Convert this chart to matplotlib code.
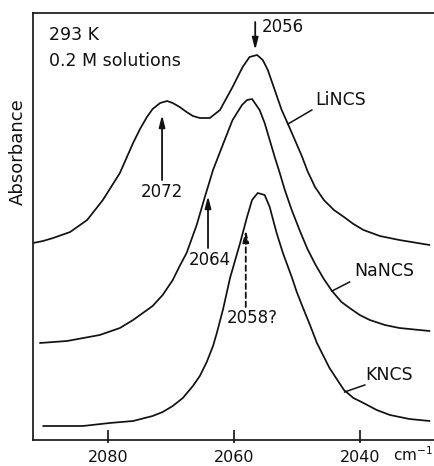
"""
IR absorbance of the CN stretch, 0.2 M LiNCS / NaNCS / KNCS solutions at 293 K
"""
import matplotlib
matplotlib.use('Agg')
import matplotlib.pyplot as plt

plt.rcParams['font.family'] = ['DejaVu Sans']

INK = "#111111"

# ── data (wavenumber cm-1, absorbance arb. units, curves offset) ──
li_wn  = [2091.9, 2090.3, 2088.7, 2086.0, 2083.3, 2080.8, 2078.1, 2076.0, 2074.9,
          2073.8, 2072.9, 2071.7, 2070.6, 2069.7, 2068.6, 2067.5, 2066.5, 2065.4,
          2063.8, 2062.2, 2060.2, 2058.6, 2057.5, 2056.3, 2055.4, 2054.6, 2053.5,
          2052.4, 2051.4, 2050.3, 2049.2, 2048.3, 2047.1, 2045.7, 2044.1, 2042.5,
          2041.0, 2039.4, 2036.8, 2033.7, 2028.9]
li_abs = [1.96, 1.98, 2.01, 2.07, 2.19, 2.39, 2.66, 2.96, 3.10,
          3.22, 3.30, 3.36, 3.38, 3.36, 3.32, 3.27, 3.23, 3.21,
          3.21, 3.29, 3.52, 3.72, 3.82, 3.84, 3.79, 3.69, 3.49,
          3.29, 3.15, 2.99, 2.83, 2.68, 2.52, 2.39, 2.29, 2.22,
          2.15, 2.09, 2.03, 1.99, 1.94]

na_wn  = [2090.8, 2086.5, 2081.3, 2078.1, 2076.0, 2072.9, 2071.3, 2069.7, 2068.6,
          2067.5, 2065.9, 2064.6, 2063.3, 2061.7, 2060.2, 2058.7, 2057.9, 2057.1,
          2055.9, 2055.1, 2054.3, 2053.5, 2052.7, 2051.9, 2050.8, 2049.5, 2048.3,
          2047.0, 2045.7, 2044.4, 2042.9, 2041.6, 2040.0, 2038.4, 2036.0, 2033.7,
          2028.9]
na_abs = [0.96, 0.98, 1.04, 1.11, 1.19, 1.33, 1.44, 1.59, 1.73,
          1.86, 2.14, 2.42, 2.69, 2.95, 3.19, 3.34, 3.39, 3.40,
          3.29, 3.16, 2.99, 2.82, 2.66, 2.49, 2.29, 2.08, 1.90,
          1.74, 1.60, 1.48, 1.37, 1.31, 1.24, 1.19, 1.14, 1.11,
          1.08]

k_wn   = [2090.3, 2084.0, 2079.7, 2076.0, 2072.9, 2071.3, 2069.7, 2068.1, 2066.5,
          2065.4, 2064.3, 2063.3, 2062.7, 2061.7, 2060.6, 2059.0, 2057.9, 2057.1,
          2056.2, 2055.1, 2054.3, 2053.2, 2052.2, 2050.8, 2050.0, 2049.0, 2047.9,
          2046.8, 2044.8, 2042.5, 2041.0, 2039.4, 2037.3, 2035.2, 2032.1, 2028.9]
k_abs  = [0.13, 0.13, 0.16, 0.18, 0.23, 0.27, 0.33, 0.41, 0.53,
          0.63, 0.77, 0.93, 1.06, 1.30, 1.61, 1.96, 2.22, 2.39,
          2.46, 2.44, 2.32, 2.06, 1.86, 1.62, 1.47, 1.31, 1.14,
          0.96, 0.71, 0.49, 0.41, 0.36, 0.29, 0.24, 0.20, 0.18]

x_ticks = [2080, 2060, 2040]

fig = plt.figure(figsize=(4.34, 4.66), dpi=100, facecolor='white')
ax = fig.add_axes([33/434, 26/466, 401/434, 427/466])
ax.set_xlim(2091.9, 2028.2)
ax.set_ylim(-0.01, 4.26)

for wn, ab in [(li_wn, li_abs), (na_wn, na_abs), (k_wn, k_abs)]:
    ax.plot(wn, ab, color=INK, lw=1.25, solid_joinstyle='round',
            solid_capstyle='round')

# frame: left / top / bottom only
ax.spines['right'].set_visible(False)
for s in ['left', 'top', 'bottom']:
    ax.spines[s].set_linewidth(1.2)
    ax.spines[s].set_color(INK)
ax.set_yticks([])
ax.set_xticks(x_ticks)
ax.set_xticklabels([str(t) for t in x_ticks])
ax.tick_params(axis='x', which='major', direction='in', length=7.5, width=1.2,
               pad=7, labelsize=11.5, colors=INK)
# short stub below the axis line, like the original ticks
ax.xaxis.remove_overlapping_locs = False
ax.set_xticks(x_ticks, minor=True)
ax.tick_params(axis='x', which='minor', direction='out', length=2.2, width=1.2,
               colors=INK)

ax.text(0.899, -0.049, 'cm$^{-1}$', transform=ax.transAxes, ha='left',
        va='baseline', fontsize=11, color=INK)
fig.text(0.041, 0.674, 'Absorbance', rotation=90, ha='center', va='center',
         fontsize=13, color=INK)

ax.text(0.04, 0.948, '293 K', transform=ax.transAxes, ha='left', va='center',
        fontsize=12.5, color=INK)
ax.text(0.04, 0.887, '0.2 M solutions', transform=ax.transAxes, ha='left',
        va='center', fontsize=12.5, color=INK)

# ── peak arrows ──
arw = dict(arrowstyle='-|>,head_length=0.7,head_width=0.18', color=INK, lw=1.3,
           shrinkA=0, shrinkB=0)
ax.annotate('', xy=(2056.6, 3.89), xytext=(2056.6, 4.17), arrowprops=arw)
ax.text(2055.6, 4.12, '2056', ha='left', va='center', fontsize=12, color=INK)

ax.annotate('', xy=(2071.4, 3.24), xytext=(2071.4, 2.59), arrowprops=arw)
ax.text(2071.4, 2.47, '2072', ha='center', va='center', fontsize=12, color=INK)

ax.annotate('', xy=(2064.1, 2.43), xytext=(2064.1, 1.91), arrowprops=arw)
ax.text(2063.8, 1.79, '2064', ha='center', va='center', fontsize=12, color=INK)

dash = dict(arw, linestyle=(0, (3, 2)))
ax.annotate('', xy=(2058.1, 2.09), xytext=(2058.1, 1.32), arrowprops=dash)
ax.text(2057.1, 1.21, '2058?', ha='center', va='center', fontsize=12, color=INK)

# ── curve labels with leader lines ──
ax.plot([2051.4, 2047.6], [3.15, 3.29], color=INK, lw=1.1)
ax.text(2047.1, 3.39, 'LiNCS', ha='left', va='center', fontsize=12.5, color=INK)
ax.plot([2044.4, 2041.6], [1.48, 1.57], color=INK, lw=1.1)
ax.text(2040.8, 1.68, 'NaNCS', ha='left', va='center', fontsize=12.5, color=INK)
ax.plot([2042.4, 2039.2], [0.47, 0.54], color=INK, lw=1.1)
ax.text(2039.2, 0.64, 'KNCS', ha='left', va='center', fontsize=12.5, color=INK)

fig.savefig('out.png', dpi=100, facecolor='white')
plt.close(fig)
